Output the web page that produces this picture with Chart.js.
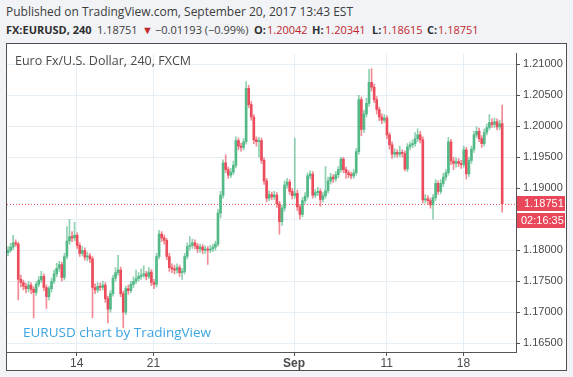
<!DOCTYPE html>
<html>
<head>
<meta charset="utf-8">
<script src="https://cdn.jsdelivr.net/npm/chart.js@4.4.0/dist/chart.umd.min.js"></script>
<style>
  body { margin: 0; width: 573px; height: 377px; overflow: hidden; background: #f1f3f6; font-family: "Open Sans", sans-serif; color: #3c3c3c; }
  .head { position: absolute; white-space: nowrap; font-size: 12px; line-height: 18px; }
  #head1 { left: 6px; top: 3px; }
  .h2 { position: absolute; top: 21px; white-space: nowrap; font-size: 11px; line-height: 18px; }
  .h2.b { font-weight: bold; color: #2f2f2f; }
  .h2.red { color: #c0282d; }
  #panel { position: absolute; left: 6px; top: 43px; width: 559px; height: 326px; border: 1px solid #505050; background: #fff; }
  #title { position: absolute; left: 8px; top: 8px; font-size: 12.5px; line-height: 17px; color: #4a4a4a; white-space: nowrap; }
  #mark { position: absolute; left: 16px; top: 279px; font-size: 13.5px; line-height: 18px; color: #3ca4e0; white-space: nowrap; }
</style>
</head>
<body>
<div class="head" id="head1">Published on TradingView.com, September 20, 2017 13:43 EST</div>
<span class="h2 b" style="left:6px">FX:EURUSD, 240</span>
<span class="h2" style="left:97px">1.18751</span>
<span class="h2 red" style="left:142px">▼</span>
<span class="h2" style="left:155px">−0.01193 (−0.99%)</span>
<span class="h2 b" style="left:254px">O:</span><span class="h2 red" style="left:267px">1.20042</span>
<span class="h2 b" style="left:312px">H:</span><span class="h2 red" style="left:325px">1.20341</span>
<span class="h2 b" style="left:372px">L:</span><span class="h2 red" style="left:382px">1.18615</span>
<span class="h2 b" style="left:427px">C:</span><span class="h2 red" style="left:438px">1.18751</span>
<div id="panel">
  <canvas id="myChart" width="559" height="326"></canvas>
  <div id="title">Euro Fx/U.S. Dollar, 240, FXCM</div>
  <div id="mark">EURUSD chart by TradingView</div>
</div>
<script>
// 4h candles
var opens = [1.1796, 1.1800, 1.1805, 1.1812, 1.1810, 1.1753, 1.1748, 1.1742, 1.1738, 1.1744,
  1.1737, 1.1732, 1.1745, 1.1752, 1.1758, 1.1740, 1.1725, 1.1738, 1.1750, 1.1762,
  1.1771, 1.1777, 1.1756, 1.1790, 1.1815, 1.1822, 1.1820, 1.1824, 1.1808, 1.1795,
  1.1800, 1.1789, 1.1791, 1.1786, 1.1740, 1.1736, 1.1742, 1.1740, 1.1744, 1.1722,
  1.1705, 1.1730, 1.1755, 1.1764, 1.1768, 1.1730, 1.1700, 1.1738, 1.1735, 1.1745,
  1.1750, 1.1754, 1.1758, 1.1760, 1.1762, 1.1758, 1.1765, 1.1748, 1.1745, 1.1790,
  1.1826, 1.1820, 1.1816, 1.1790, 1.1772, 1.1770, 1.1768, 1.1772, 1.1764, 1.1766,
  1.1790, 1.1806, 1.1808, 1.1812, 1.1807, 1.1802, 1.1805, 1.1800, 1.1802, 1.1800,
  1.1802, 1.1805, 1.1810, 1.1860, 1.1889, 1.1941, 1.1930, 1.1921, 1.1926, 1.1937,
  1.1977, 1.1968, 1.1966, 1.1975, 1.2061, 1.2035, 1.2015, 1.1978, 1.1975, 1.1977,
  1.1945, 1.1912, 1.1884, 1.1890, 1.1886, 1.1889, 1.1875, 1.1846, 1.1868, 1.1905,
  1.1910, 1.1895, 1.1888, 1.1892, 1.1870, 1.1858, 1.1880, 1.1887, 1.1920, 1.1923,
  1.1889, 1.1893, 1.1895, 1.1882, 1.1888, 1.1896, 1.1912, 1.1918, 1.1915, 1.1922,
  1.1930, 1.1947, 1.1930, 1.1925, 1.1922, 1.1920, 1.1925, 1.1959, 1.2043, 1.1995,
  1.2020, 1.2037, 1.2071, 1.2063, 1.2043, 1.2027, 1.2015, 1.2010, 1.2013, 1.1986,
  1.1970, 1.1955, 1.1958, 1.1955, 1.1958, 1.1956, 1.1931, 1.1967, 1.1970, 1.1972,
  1.1980, 1.1986, 1.1978, 1.1881, 1.1883, 1.1880, 1.1873, 1.1885, 1.1908, 1.1895,
  1.1908, 1.1918, 1.1925, 1.1975, 1.1944, 1.1940, 1.1943, 1.1940, 1.1938, 1.1962,
  1.1923, 1.1945, 1.1963, 1.1986, 1.1992, 1.1980, 1.1972, 1.1990, 1.1998, 1.2006,
  1.2003, 1.2007, 1.1999, 1.20042];
var highs = [1.1806, 1.1811, 1.1824, 1.1817, 1.1813, 1.1760, 1.1752, 1.1747, 1.1750, 1.1748,
  1.1741, 1.1749, 1.1758, 1.1766, 1.1762, 1.1744, 1.1742, 1.1755, 1.1768, 1.1779,
  1.1782, 1.1781, 1.1795, 1.1838, 1.1850, 1.1830, 1.1845, 1.1828, 1.1812, 1.1806,
  1.1804, 1.1797, 1.1795, 1.1790, 1.1746, 1.1748, 1.1747, 1.1750, 1.1748, 1.1726,
  1.1735, 1.1760, 1.1772, 1.1792, 1.1773, 1.1734, 1.1742, 1.1744, 1.1750, 1.1757,
  1.1768, 1.1764, 1.1770, 1.1775, 1.1766, 1.1772, 1.1769, 1.1753, 1.1795, 1.1832,
  1.1830, 1.1825, 1.1819, 1.1795, 1.1778, 1.1776, 1.1778, 1.1776, 1.1771, 1.1795,
  1.1812, 1.1822, 1.1818, 1.1817, 1.1811, 1.1810, 1.1809, 1.1807, 1.1806, 1.1808,
  1.1810, 1.1815, 1.1866, 1.1895, 1.1946, 1.1954, 1.1934, 1.1932, 1.1944, 1.1983,
  1.1981, 1.1973, 1.1980, 1.2072, 1.2066, 1.2040, 1.2019, 1.1983, 1.1982, 1.1981,
  1.1949, 1.1916, 1.1896, 1.1894, 1.1895, 1.1893, 1.1879, 1.1873, 1.1912, 1.1916,
  1.1914, 1.1900, 1.1981, 1.1897, 1.1874, 1.1885, 1.1893, 1.1925, 1.1928, 1.1927,
  1.1898, 1.1902, 1.1899, 1.1893, 1.1935, 1.1918, 1.1924, 1.1922, 1.1927, 1.1935,
  1.1950, 1.1950, 1.1934, 1.1929, 1.1926, 1.1930, 1.1964, 1.2050, 1.2047, 1.2026,
  1.2045, 1.2092, 1.2093, 1.2068, 1.2048, 1.2031, 1.2020, 1.2019, 1.2017, 1.1990,
  1.1975, 1.1964, 1.1962, 1.1968, 1.1962, 1.1960, 1.1972, 1.1975, 1.1978, 1.1990,
  1.1996, 1.1992, 1.1983, 1.1890, 1.1888, 1.1884, 1.1890, 1.1914, 1.1912, 1.1914,
  1.1924, 1.1930, 1.1982, 1.1979, 1.1950, 1.1949, 1.1948, 1.1945, 1.1968, 1.1966,
  1.1950, 1.1968, 1.1992, 1.1999, 1.1997, 1.1985, 1.1996, 1.2004, 1.2019, 1.2012,
  1.2013, 1.2012, 1.2010, 1.20341];
var lows = [1.1791, 1.1797, 1.1801, 1.1806, 1.1720, 1.1741, 1.1736, 1.1731, 1.1733, 1.1730,
  1.1691, 1.1727, 1.1741, 1.1748, 1.1735, 1.1706, 1.1720, 1.1733, 1.1746, 1.1757,
  1.1766, 1.1750, 1.1752, 1.1786, 1.1810, 1.1814, 1.1815, 1.1803, 1.1790, 1.1791,
  1.1784, 1.1783, 1.1780, 1.1691, 1.1730, 1.1732, 1.1735, 1.1736, 1.1716, 1.1683,
  1.1700, 1.1726, 1.1750, 1.1760, 1.1725, 1.1675, 1.1696, 1.1729, 1.1731, 1.1740,
  1.1746, 1.1750, 1.1753, 1.1756, 1.1752, 1.1754, 1.1743, 1.1738, 1.1741, 1.1786,
  1.1814, 1.1810, 1.1785, 1.1766, 1.1764, 1.1762, 1.1763, 1.1758, 1.1753, 1.1762,
  1.1786, 1.1800, 1.1803, 1.1802, 1.1796, 1.1797, 1.1794, 1.1795, 1.1777, 1.1796,
  1.1798, 1.1800, 1.1806, 1.1852, 1.1884, 1.1925, 1.1916, 1.1917, 1.1922, 1.1933,
  1.1962, 1.1960, 1.1962, 1.1971, 1.2030, 1.2010, 1.1972, 1.1968, 1.1950, 1.1940,
  1.1906, 1.1878, 1.1880, 1.1881, 1.1882, 1.1869, 1.1826, 1.1840, 1.1863, 1.1900,
  1.1890, 1.1883, 1.1884, 1.1864, 1.1850, 1.1854, 1.1876, 1.1883, 1.1915, 1.1884,
  1.1885, 1.1888, 1.1871, 1.1878, 1.1884, 1.1892, 1.1907, 1.1909, 1.1911, 1.1917,
  1.1926, 1.1925, 1.1916, 1.1917, 1.1915, 1.1916, 1.1921, 1.1955, 1.1985, 1.1990,
  1.2015, 1.2032, 1.2057, 1.2038, 1.2020, 1.2009, 1.2004, 1.2006, 1.1980, 1.1963,
  1.1948, 1.1950, 1.1950, 1.1951, 1.1950, 1.1928, 1.1927, 1.1962, 1.1965, 1.1968,
  1.1975, 1.1973, 1.1876, 1.1876, 1.1874, 1.1868, 1.1850, 1.1880, 1.1890, 1.1891,
  1.1903, 1.1913, 1.1921, 1.1938, 1.1930, 1.1934, 1.1935, 1.1932, 1.1934, 1.1915,
  1.1919, 1.1940, 1.1958, 1.1982, 1.1975, 1.1966, 1.1968, 1.1986, 1.1994, 1.1998,
  1.1998, 1.1994, 1.1995, 1.18615];
var closes = [1.1800, 1.1805, 1.1812, 1.1810, 1.1753, 1.1748, 1.1742, 1.1738, 1.1744, 1.1737,
  1.1732, 1.1745, 1.1752, 1.1758, 1.1740, 1.1725, 1.1738, 1.1750, 1.1762, 1.1771,
  1.1777, 1.1756, 1.1790, 1.1815, 1.1822, 1.1820, 1.1824, 1.1808, 1.1795, 1.1800,
  1.1789, 1.1791, 1.1786, 1.1740, 1.1736, 1.1742, 1.1740, 1.1744, 1.1722, 1.1705,
  1.1730, 1.1755, 1.1764, 1.1768, 1.1730, 1.1700, 1.1738, 1.1735, 1.1745, 1.1750,
  1.1754, 1.1758, 1.1760, 1.1762, 1.1758, 1.1765, 1.1748, 1.1745, 1.1790, 1.1826,
  1.1820, 1.1816, 1.1790, 1.1772, 1.1770, 1.1768, 1.1772, 1.1764, 1.1766, 1.1790,
  1.1806, 1.1808, 1.1812, 1.1807, 1.1802, 1.1805, 1.1800, 1.1802, 1.1800, 1.1802,
  1.1805, 1.1810, 1.1860, 1.1889, 1.1941, 1.1930, 1.1921, 1.1926, 1.1937, 1.1977,
  1.1968, 1.1966, 1.1975, 1.2061, 1.2035, 1.2015, 1.1978, 1.1975, 1.1977, 1.1945,
  1.1912, 1.1884, 1.1890, 1.1886, 1.1889, 1.1875, 1.1846, 1.1868, 1.1905, 1.1910,
  1.1895, 1.1888, 1.1892, 1.1870, 1.1858, 1.1880, 1.1887, 1.1920, 1.1923, 1.1889,
  1.1893, 1.1895, 1.1882, 1.1888, 1.1896, 1.1912, 1.1918, 1.1915, 1.1922, 1.1930,
  1.1947, 1.1930, 1.1925, 1.1922, 1.1920, 1.1925, 1.1959, 1.2043, 1.1995, 1.2020,
  1.2037, 1.2071, 1.2063, 1.2043, 1.2027, 1.2015, 1.2010, 1.2013, 1.1986, 1.1970,
  1.1955, 1.1958, 1.1955, 1.1958, 1.1956, 1.1931, 1.1967, 1.1970, 1.1972, 1.1980,
  1.1986, 1.1978, 1.1881, 1.1883, 1.1880, 1.1873, 1.1885, 1.1908, 1.1895, 1.1908,
  1.1918, 1.1925, 1.1975, 1.1944, 1.1940, 1.1943, 1.1940, 1.1938, 1.1962, 1.1923,
  1.1945, 1.1963, 1.1986, 1.1992, 1.1980, 1.1972, 1.1990, 1.1998, 1.2006, 1.2003,
  1.2007, 1.1999, 1.2004, 1.18751];

// date ticks (position in bars) and price ticks
var xTickPos = [26.8, 56.8, 111.7, 147.9, 177.9];
var xTickLabels = ['14', '21', 'Sep', '11', '18'];
var yTicks = [1.165, 1.170, 1.175, 1.180, 1.185, 1.190, 1.195, 1.200, 1.205, 1.210];
var lastPrice = 1.18751;
var countdown = '02:16:35';

const upColor = '#53b987';
const downColor = '#eb4d5c';
const upWick = 'rgba(83,185,135,0.65)';
const downWick = 'rgba(235,77,92,0.65)';
const axisFont = '"Liberation Sans", Arial, sans-serif';

var wickData = lows.map((l, i) => ({ x: i, y: [l, highs[i]] }));
var bodyData = opens.map((o, i) => ({ x: i, y: [o, closes[i]] }));
var isUp = i => closes[i] >= opens[i];

const priceLine = {
    id: 'priceLine',
    beforeDatasetsDraw(chart) {
        const ctx = chart.ctx, area = chart.chartArea;
        const y = Math.round(chart.scales.y.getPixelForValue(lastPrice)) + 0.5;
        ctx.save();
        ctx.strokeStyle = '#ef5a66';
        ctx.lineWidth = 1;
        ctx.setLineDash([1, 2]);
        ctx.beginPath();
        ctx.moveTo(area.left, y);
        ctx.lineTo(area.right, y);
        ctx.stroke();
        ctx.restore();
    },
    afterDraw(chart) {
        const ctx = chart.ctx, area = chart.chartArea;
        const y = Math.round(chart.scales.y.getPixelForValue(lastPrice));
        const x0 = area.right + 1, w = chart.width - x0 - 1;
        ctx.save();
        ctx.fillStyle = '#e9475a';
        ctx.fillRect(x0, y - 8, w, 15);
        ctx.fillRect(x0, y + 9, w, 15);
        ctx.fillStyle = '#fff';
        ctx.font = '11px ' + axisFont;
        ctx.textBaseline = 'middle';
        ctx.fillText(lastPrice.toFixed(5), x0 + 7, y);
        ctx.fillText(countdown, x0 + 4, y + 17);
        ctx.restore();
    }
};

new Chart(document.getElementById('myChart'), {
    type: 'bar',
    data: {
        datasets: [{
            data: bodyData,
            barThickness: 2,
            minBarLength: 1,
            grouped: false,
            order: 0,
            backgroundColor: c => isUp(c.dataIndex) ? upColor : downColor
        }, {
            data: wickData,
            barThickness: 1,
            grouped: false,
            order: 1,
            backgroundColor: c => isUp(c.dataIndex) ? upWick : downWick
        }]
    },
    options: {
        responsive: false,
        animation: false,
        layout: { padding: 0 },
        plugins: { legend: { display: false }, tooltip: { enabled: false } },
        scales: {
            x: {
                type: 'linear',
                offset: false,
                min: -0.4,
                max: 198.4,
                afterBuildTicks: s => { s.ticks = xTickPos.map(v => ({ value: v })); },
                afterFit: s => { s.height = 18; },
                border: { color: '#555' },
                grid: { offset: false, color: '#e6eef5', tickColor: '#555', tickLength: 4 },
                ticks: {
                    padding: 0,
                    maxRotation: 0,
                    autoSkip: false,
                    color: '#4a4a4a',
                    font: c => ({ family: axisFont, size: 12, weight: (c.tick && c.tick.label === 'Sep') ? 'bold' : 'normal' }),
                    callback: (v, i) => xTickLabels[i]
                }
            },
            y: {
                position: 'right',
                min: 1.16359,
                max: 1.21172,
                afterBuildTicks: s => { s.ticks = yTicks.map(v => ({ value: v })); },
                afterFit: s => { s.width = 50; },
                border: { color: '#555' },
                grid: { color: '#e6eef5', tickColor: '#555', tickLength: 4 },
                ticks: {
                    padding: 3,
                    color: '#4a4a4a',
                    font: { family: axisFont, size: 11 },
                    callback: v => v.toFixed(5)
                }
            }
        }
    },
    plugins: [priceLine]
});
</script>
</body>
</html>
